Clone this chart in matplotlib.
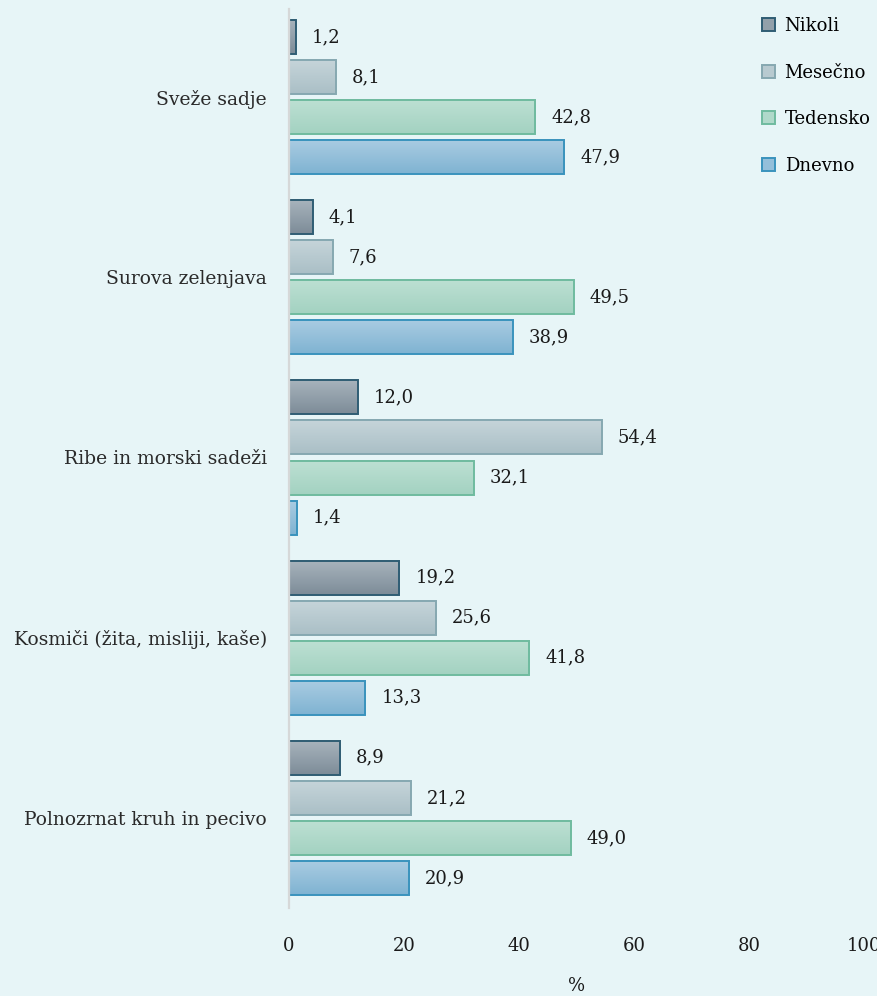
import numpy as np
import matplotlib.pyplot as plt
from matplotlib.colors import LinearSegmentedColormap
from matplotlib.patches import Patch

plt.rcParams['font.family'] = ['DejaVu Serif']

categories = ["Sveže sadje", "Surova zelenjava", "Ribe in morski sadeži",
              "Kosmiči (žita, misliji, kaše)", "Polnozrnat kruh in pecivo"]
series = ["Nikoli", "Mesečno", "Tedensko", "Dnevno"]
nikoli = [1.2, 4.1, 12.0, 19.2, 8.9]
mesecno = [8.1, 7.6, 54.4, 25.6, 21.2]
tedensko = [42.8, 49.5, 32.1, 41.8, 49.0]
dnevno = [47.9, 38.9, 1.4, 13.3, 20.9]
xticks = [0, 20, 40, 60, 80, 100]

# (top colour, bottom colour, edge colour) for each series
styles = [
    ("#a8b4bd", "#7d8c98", "#2f5d74"),
    ("#c6d5da", "#aabfc6", "#86a8b1"),
    ("#bde0d3", "#a3d2c1", "#6fbb9f"),
    ("#aacce2", "#7fb3d2", "#3a93bd"),
]

bg = "#e7f5f7"
fs = 13
fig = plt.figure(figsize=(8.78, 9.96), dpi=100, facecolor=bg)
ax = fig.add_axes([289 / 878, 1 - 908 / 996, (864 - 289) / 878, (908 - 9) / 996])
ax.set_facecolor(bg)

values = [nikoli, mesecno, tedensko, dnevno]
offsets = [1.5, 0.5, -0.5, -1.5]
h = 0.85
grad = np.linspace(0, 1, 64).reshape(-1, 1)

for s, (vals, off, (c_top, c_bot, c_edge)) in enumerate(zip(values, offsets, styles)):
    cmap = LinearSegmentedColormap.from_list(f"g{s}", [c_top, c_bot])
    for i, v in enumerate(vals):
        y = -i * 4.5 + off
        # vertical gradient fill, then the outline on top
        ax.imshow(grad, extent=[0, v, y - h / 2, y + h / 2], origin="upper",
                  aspect="auto", cmap=cmap, zorder=2)
        ax.barh(y, v, height=h, fill=False, edgecolor=c_edge, linewidth=1.4, zorder=3)
        ax.annotate(f"{v:.1f}".replace(".", ","), (v, y), xytext=(11.5, 0),
                    textcoords="offset points", va="center", ha="left",
                    fontsize=fs, color="#1a1a1a")

ax.set_xlim(0, 100)
ax.set_ylim(-20.25, 2.2)
ax.set_xticks(xticks)
ax.set_xticklabels([str(t) for t in xticks], fontsize=fs, color="#1a1a1a")
ax.set_yticks([-i * 4.5 for i in range(len(categories))])
ax.set_yticklabels(categories, fontsize=13.5, color="#2a2a2a")
ax.tick_params(axis="both", length=0)
ax.tick_params(axis="x", pad=21)
ax.tick_params(axis="y", pad=16)
ax.set_xlabel("%", fontsize=fs, color="#1a1a1a", labelpad=16)

for side in ["top", "right", "bottom"]:
    ax.spines[side].set_visible(False)
ax.spines["left"].set_color("#d6d8d8")
ax.spines["left"].set_linewidth(1.6)
ax.spines["left"].set_zorder(4)

handles = [Patch(facecolor=LinearSegmentedColormap.from_list("m", [t, b])(0.5),
                 edgecolor=e, linewidth=1.4) for t, b, e in styles]
fig.legend(handles, series, loc="upper left", bbox_to_anchor=(762 / 878, 1 - 17 / 996),
           frameon=False, fontsize=fs, handlelength=0.7, handleheight=0.7,
           handletextpad=0.55, labelspacing=1.58, borderpad=0, borderaxespad=0)

fig.savefig("out.png", dpi=100, facecolor=bg)
